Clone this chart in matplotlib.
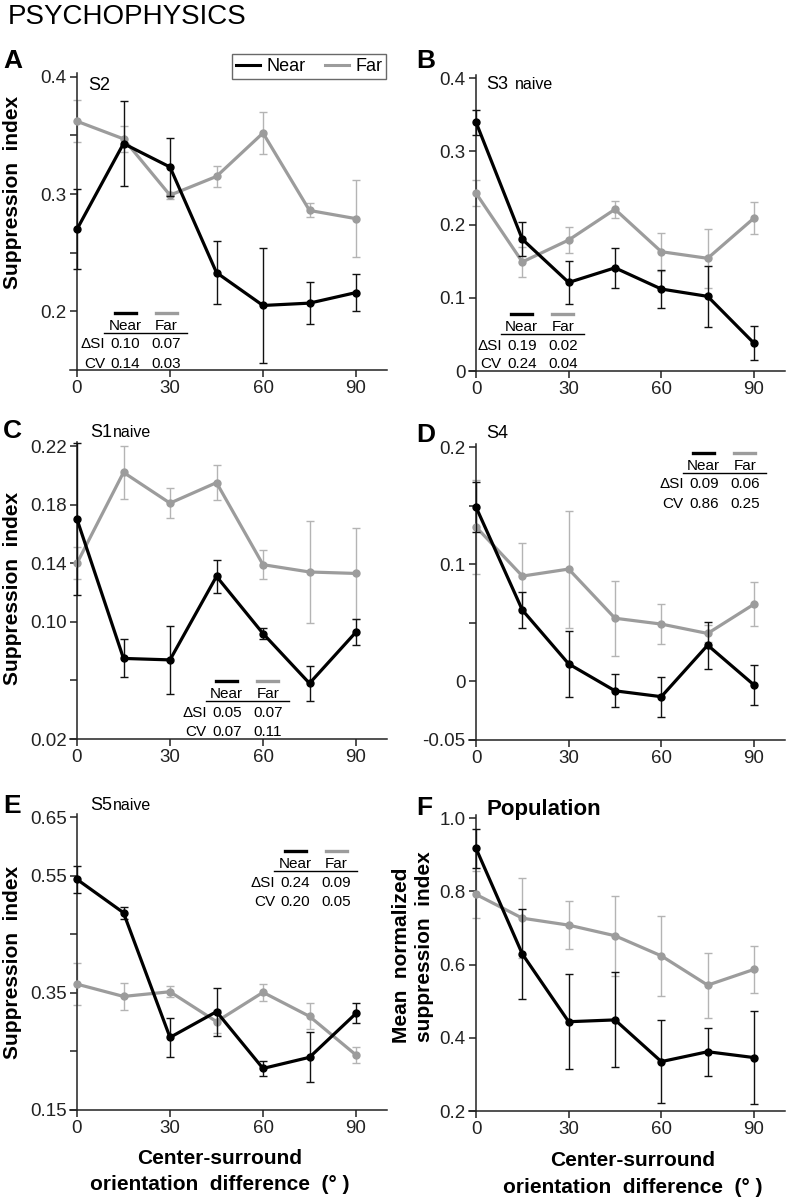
import matplotlib
matplotlib.use('Agg')
import matplotlib.pyplot as plt
from matplotlib.lines import Line2D

plt.rcParams['font.family'] = ['Liberation Sans', 'DejaVu Sans']

# center-surround orientation difference (deg)
angles = [0, 15, 30, 45, 60, 75, 90]

# A  S2
a_near = [0.270, 0.343, 0.323, 0.233, 0.205, 0.207, 0.216]
a_near_err = [0.034, 0.036, 0.025, 0.027, 0.049, 0.018, 0.016]
a_far = [0.362, 0.347, 0.299, 0.315, 0.352, 0.286, 0.279]
a_far_err = [0.018, 0.011, 0.003, 0.009, 0.018, 0.006, 0.033]

# B  S3 naive
b_near = [0.340, 0.180, 0.121, 0.141, 0.112, 0.102, 0.038]
b_near_err = [0.017, 0.023, 0.030, 0.027, 0.026, 0.042, 0.023]
b_far = [0.243, 0.149, 0.179, 0.221, 0.163, 0.154, 0.209]
b_far_err = [0.018, 0.020, 0.018, 0.012, 0.026, 0.040, 0.022]

# C  S1 naive
c_near = [0.170, 0.075, 0.074, 0.131, 0.092, 0.058, 0.093]
c_near_err = [0.052, 0.013, 0.023, 0.011, 0.004, 0.012, 0.009]
c_far = [0.140, 0.202, 0.181, 0.195, 0.139, 0.134, 0.133]
c_far_err = [0.011, 0.018, 0.010, 0.012, 0.010, 0.035, 0.031]

# D  S4
d_near = [0.149, 0.061, 0.015, -0.008, -0.013, 0.031, -0.003]
d_near_err = [0.021, 0.015, 0.028, 0.014, 0.017, 0.020, 0.017]
d_far = [0.132, 0.090, 0.096, 0.054, 0.049, 0.041, 0.066]
d_far_err = [0.040, 0.028, 0.050, 0.032, 0.017, 0.007, 0.019]

# E  S5 naive
e_near = [0.544, 0.487, 0.274, 0.318, 0.221, 0.240, 0.315]
e_near_err = [0.023, 0.010, 0.034, 0.041, 0.013, 0.043, 0.017]
e_far = [0.365, 0.344, 0.352, 0.301, 0.351, 0.310, 0.244]
e_far_err = [0.036, 0.023, 0.009, 0.020, 0.015, 0.022, 0.014]

# F  population
f_near = [0.918, 0.629, 0.444, 0.449, 0.335, 0.362, 0.346]
f_near_err = [0.054, 0.124, 0.130, 0.130, 0.114, 0.065, 0.127]
f_far = [0.792, 0.727, 0.708, 0.679, 0.624, 0.544, 0.587]
f_far_err = [0.065, 0.110, 0.066, 0.109, 0.109, 0.089, 0.064]

# summary tables: (dSI near, dSI far), (CV near, CV far)
a_dsi, a_cv = ['0.10', '0.07'], ['0.14', '0.03']
b_dsi, b_cv = ['0.19', '0.02'], ['0.24', '0.04']
c_dsi, c_cv = ['0.05', '0.07'], ['0.07', '0.11']
d_dsi, d_cv = ['0.09', '0.06'], ['0.86', '0.25']
e_dsi, e_cv = ['0.24', '0.09'], ['0.20', '0.05']

a_ticks = [0.2, 0.25, 0.3, 0.35, 0.4]
a_labels = ['0.2', '', '0.3', '', '0.4']
b_ticks = [0, 0.1, 0.2, 0.3, 0.4]
b_labels = ['0', '0.1', '0.2', '0.3', '0.4']
c_ticks = [0.02, 0.06, 0.10, 0.14, 0.18, 0.22]
c_labels = ['0.02', '', '0.10', '0.14', '0.18', '0.22']
d_ticks = [-0.05, 0, 0.05, 0.1, 0.15, 0.2]
d_labels = ['-0.05', '0', '', '0.1', '', '0.2']
e_ticks = [0.15, 0.25, 0.35, 0.45, 0.55, 0.65]
e_labels = ['0.15', '', '0.35', '', '0.55', '0.65']
f_ticks = [0.2, 0.4, 0.6, 0.8, 1.0]
f_labels = ['0.2', '0.4', '0.6', '0.8', '1.0']
x_ticks = [0, 30, 60, 90]

W, H = 789, 1199
GRAY = '#9c9c9c'
GRAY_ERR = '#b4b4b4'
XMIN, XMAX = -2.3, 100

fig = plt.figure(figsize=(W / 100, H / 100), dpi=100)


def fx(px):
    return px / W


def fy(py):
    return 1 - py / H


def add_panel(x0, x90, ybot, ytop, lo, hi, ticks, labels):
    ppd = (x90 - x0) / 90.0
    left = x0 + XMIN * ppd
    right = x0 + XMAX * ppd
    pad = 0.012
    top = ytop - pad * (ybot - ytop)
    ax = fig.add_axes([fx(left), fy(ybot), (right - left) / W, (ybot - top) / H])
    ax.set_xlim(XMIN, XMAX)
    ax.set_ylim(lo, hi + pad * (hi - lo))
    ax.spines['top'].set_visible(False)
    ax.spines['right'].set_visible(False)
    ax.spines['left'].set_position(('data', 0))
    ax.spines['left'].set_bounds(lo, hi + pad * (hi - lo))
    for s in ('left', 'bottom'):
        ax.spines[s].set_linewidth(1.1)
        ax.spines[s].set_color('#222222')
    ax.set_xticks(x_ticks)
    ax.set_xticklabels([str(t) for t in x_ticks])
    ax.set_yticks(ticks)
    ax.set_yticklabels(labels)
    ax.tick_params(direction='out', length=5, width=1.1, labelsize=13.5,
                   pad=2.4, color='#222222', labelcolor='#222222')
    ax.patch.set_visible(False)
    return ax


def draw_series(ax, near, near_err, far, far_err):
    ax.errorbar(angles, far, yerr=far_err, fmt='none', ecolor=GRAY_ERR,
                elinewidth=1.0, capsize=2.6, capthick=1.0, clip_on=False, zorder=2)
    ax.plot(angles, far, color=GRAY, lw=2.3, marker='o', ms=5,
            clip_on=False, zorder=3, label='Far')
    ax.errorbar(angles, near, yerr=near_err, fmt='none', ecolor='#111111',
                elinewidth=1.0, capsize=2.6, capthick=1.0, clip_on=False, zorder=4)
    ax.plot(angles, near, color='black', lw=2.3, marker='o', ms=5,
            clip_on=False, zorder=5, label='Near')


def draw_table(cx, hb, dsi, cv):
    # cx: centre of "Near" column, hb: header baseline (pixels)
    fs = 11
    dx = 41
    fig.add_artist(Line2D([fx(cx - 10.5), fx(cx + 10.5)], [fy(hb - 17)] * 2,
                          color='black', lw=2.4, transform=fig.transFigure))
    fig.add_artist(Line2D([fx(cx + dx - 10.5), fx(cx + dx + 10.5)], [fy(hb - 17)] * 2,
                          color=GRAY, lw=2.4, transform=fig.transFigure))
    fig.text(fx(cx), fy(hb), 'Near', ha='center', va='baseline', fontsize=fs)
    fig.text(fx(cx + dx), fy(hb), 'Far', ha='center', va='baseline', fontsize=fs)
    fig.add_artist(Line2D([fx(cx - 21), fx(cx + 62)], [fy(hb + 3)] * 2,
                          color='black', lw=1.0, transform=fig.transFigure))
    for name, vals, off in (('\u0394SI', dsi, 18.5), ('CV', cv, 37.5)):
        fig.text(fx(cx - 20), fy(hb + off), name, ha='right', va='baseline', fontsize=fs)
        fig.text(fx(cx), fy(hb + off), vals[0], ha='center', va='baseline', fontsize=fs)
        fig.text(fx(cx + dx), fy(hb + off), vals[1], ha='center', va='baseline', fontsize=fs)


axA = add_panel(77, 356, 370, 76.7, 0.15, 0.4, a_ticks, a_labels)
draw_series(axA, a_near, a_near_err, a_far, a_far_err)
axB = add_panel(476, 754, 371, 78.3, 0.0, 0.4, b_ticks, b_labels)
draw_series(axB, b_near, b_near_err, b_far, b_far_err)
axC = add_panel(77, 356, 739, 446, 0.02, 0.22, c_ticks, c_labels)
draw_series(axC, c_near, c_near_err, c_far, c_far_err)
axD = add_panel(476, 754, 740, 447.3, -0.05, 0.2, d_ticks, d_labels)
draw_series(axD, d_near, d_near_err, d_far, d_far_err)
axE = add_panel(77, 356, 1110, 817.3, 0.15, 0.65, e_ticks, e_labels)
draw_series(axE, e_near, e_near_err, e_far, e_far_err)
axF = add_panel(476, 754, 1111, 818.3, 0.2, 1.0, f_ticks, f_labels)
draw_series(axF, f_near, f_near_err, f_far, f_far_err)

# legend in panel A
handles = [Line2D([], [], color='black', lw=2.2), Line2D([], [], color=GRAY, lw=2.2)]
leg = axA.legend(handles, ['Near', 'Far'], loc='upper right', ncol=2,
                 bbox_to_anchor=(fx(386), fy(54)), bbox_transform=fig.transFigure,
                 borderaxespad=0, fontsize=13, frameon=True, fancybox=False,
                 handlelength=1.3, handletextpad=0.35, columnspacing=1.1,
                 borderpad=0.22)
leg.get_frame().set_edgecolor('#444444')
leg.get_frame().set_linewidth(1.0)

# tables
draw_table(125, 330, a_dsi, a_cv)
draw_table(521.7, 331, b_dsi, b_cv)
draw_table(226.7, 698.3, c_dsi, c_cv)
draw_table(703.8, 470, d_dsi, d_cv)
draw_table(295, 868.3, e_dsi, e_cv)

# subject labels
fig.text(fx(88), fy(90), 'S2', fontsize=13, va='baseline')
fig.text(fx(486.7), fy(89.3), 'S3', fontsize=13, va='baseline')
fig.text(fx(515), fy(89.3), 'naive', fontsize=11.5, va='baseline')
fig.text(fx(90), fy(436.7), 'S1', fontsize=13, va='baseline')
fig.text(fx(112.5), fy(436.7), 'naive', fontsize=11.5, va='baseline')
fig.text(fx(486.7), fy(438.3), 'S4', fontsize=13, va='baseline')
fig.text(fx(90), fy(810), 'S5', fontsize=13, va='baseline')
fig.text(fx(112.5), fy(810), 'naive', fontsize=11.5, va='baseline')
fig.text(fx(486.7), fy(815), 'Population', fontsize=16, fontweight='bold', va='baseline')

# panel letters
for letter, x, y in (('A', 3, 68), ('B', 416.7, 68), ('C', 3, 438),
                     ('D', 416.7, 441.7), ('E', 3, 813), ('F', 416.7, 815)):
    fig.text(fx(x), fy(y), letter, fontsize=19, fontweight='bold', va='baseline')

fig.text(fx(8), fy(24), 'PSYCHOPHYSICS', fontsize=20, va='baseline')

# axis labels
for y in (192, 588, 962):
    fig.text(fx(12.5), fy(y), 'Suppression  index', rotation=90, fontsize=15,
             fontweight='bold', ha='center', va='center')
fig.text(fx(401.7), fy(955), 'Mean  normalized', rotation=90, fontsize=15,
         fontweight='bold', ha='center', va='center')
fig.text(fx(425), fy(947), 'suppression  index', rotation=90, fontsize=15,
         fontweight='bold', ha='center', va='center')

for cx, b1, b2 in ((220, 1164, 1190), (633, 1166, 1193)):
    fig.text(fx(cx), fy(b1), 'Center-surround', fontsize=15, fontweight='bold',
             ha='center', va='baseline')
    fig.text(fx(cx), fy(b2), 'orientation  difference  (\u00b0 )', fontsize=15,
             fontweight='bold', ha='center', va='baseline')

fig.savefig('out.png', dpi=100)
